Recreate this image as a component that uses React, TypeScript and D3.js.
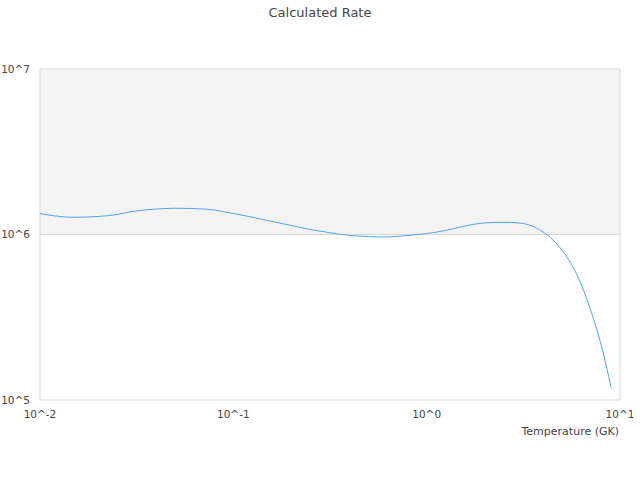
import * as d3 from 'd3';

// temperature grid (GK) and rate
const temperatures = [
  0.01, 0.012, 0.015, 0.02, 0.025, 0.03, 0.04, 0.05, 0.06, 0.07, 0.08, 0.09,
  0.1, 0.12, 0.15, 0.2, 0.25, 0.3, 0.4, 0.5, 0.6, 0.7, 0.8, 0.9,
  1, 1.25, 1.5, 1.75, 2, 2.5, 3, 3.5, 4, 4.5, 5, 6, 7, 8, 9,
];
const rates = [
  1.339e6, 1.294e6, 1.27e6, 1.285e6, 1.321e6, 1.377e6, 1.426e6, 1.44e6, 1.436e6, 1.426e6, 1.406e6, 1.368e6,
  1.339e6, 1.285e6, 1.215e6, 1.133e6, 1.072e6, 1.035e6, 0.986e6, 0.972e6, 0.966e6, 0.975e6, 0.986e6, 1.0e6,
  1.014e6, 1.057e6, 1.11e6, 1.152e6, 1.174e6, 1.185e6, 1.174e6, 1.126e6, 1.035e6, 0.927e6, 0.806e6, 0.569e6, 0.358e6, 0.214e6, 0.119e6,
];
const xTicks = [0.01, 0.1, 1, 10];
const xTickLabels = ['10^-2', '10^-1', '10^0', '10^1'];
const yTicks = [1e5, 1e6, 1e7];
const yTickLabels = ['10^5', '10^6', '10^7'];

const W = 640;
const H = 480;
const margin = { top: 69, right: 20, bottom: 80, left: 40 };
const font = 'DejaVu Sans, sans-serif';

export default function App() {
  const x = d3.scaleLog().domain([0.01, 10]).range([margin.left, W - margin.right]);
  const y = d3.scaleLog().domain([1e5, 1e7]).range([H - margin.bottom, margin.top]);

  const pts = temperatures.map((t, i) => [t, rates[i]] as [number, number]);
  const line = d3.line<[number, number]>()
    .x(d => x(d[0]))
    .y(d => y(d[1]))
    .curve(d3.curveMonotoneX);

  const gridColor = '#d9d9d9';
  const textColor = '#444';

  return (
    <svg width={W} height={H} style={{ position: 'absolute', left: 0, top: 0 }}>
      <rect width={W} height={H} fill="#fff" />
      {/* alternating band between 10^6 and 10^7 */}
      <rect x={x(0.01)} y={y(1e7)} width={x(10) - x(0.01)} height={y(1e6) - y(1e7)} fill="#f3f3f3" />

      {yTicks.map((t, i) => (
        <g key={t}>
          <line x1={x(0.01)} x2={x(10)} y1={y(t)} y2={y(t)} stroke={gridColor} />
          <text x={30} y={y(t)} dy="0.35em" textAnchor="end" fontFamily={font} fontSize={10.5} fill={textColor}>
            {yTickLabels[i]}
          </text>
        </g>
      ))}
      <line x1={x(0.01)} x2={x(0.01)} y1={y(1e7)} y2={y(1e5)} stroke={gridColor} />
      <line x1={x(10)} x2={x(10)} y1={y(1e7)} y2={y(1e5)} stroke={gridColor} />

      {xTicks.map((t, i) => (
        <text key={t} x={x(t)} y={418} textAnchor="middle" fontFamily={font} fontSize={10.5} fill={textColor}>
          {xTickLabels[i]}
        </text>
      ))}

      <path d={line(pts) ?? ''} fill="none" stroke="#4ea4f6" strokeWidth={1} />

      <text x={W / 2} y={17} textAnchor="middle" fontFamily={font} fontSize={13} fill={textColor}>
        Calculated Rate
      </text>
      <text x={619} y={435} textAnchor="end" fontFamily={font} fontSize={11} fill={textColor}>
        Temperature (GK)
      </text>
    </svg>
  );
}
